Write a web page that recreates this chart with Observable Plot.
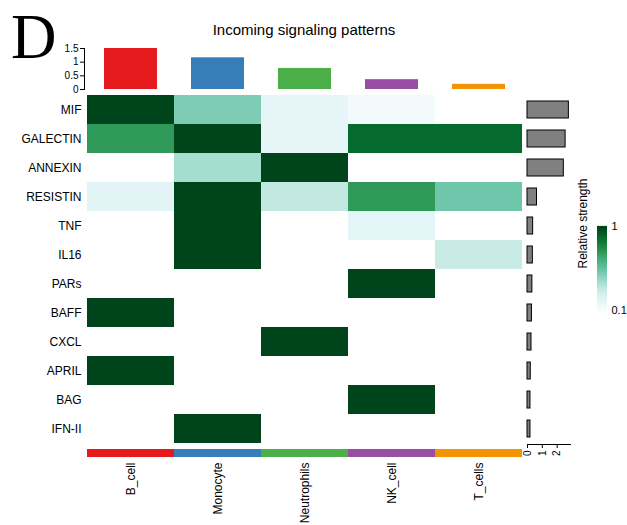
<!DOCTYPE html>
<html>
<head>
<meta charset="utf-8">
<script src="https://cdn.jsdelivr.net/npm/d3@7"></script>
<script src="https://cdn.jsdelivr.net/npm/@observablehq/plot@0.6"></script>
<style>
  body { margin: 0; background: #fff; }
  #chart { position: relative; width: 627px; height: 525px; overflow: hidden;
           font-family: "Liberation Sans", Arial, Helvetica, sans-serif; color: #000; }
  #chart svg { position: absolute; left: 0; top: 0; overflow: visible; }
  .panel-letter { position: absolute; left: 11px; top: 1px; font-family: "Liberation Serif", "Times New Roman", serif;
                  font-size: 63px; line-height: normal; }
  .title { position: absolute; left: 86px; width: 436px; top: 22px; text-align: center;
           font-size: 15px; line-height: 15px; }
</style>
</head>
<body>
<div id="chart">
  <div class="panel-letter">D</div>
  <div class="title">Incoming signaling patterns</div>
</div>
<script>
// Receiving cell groups and their colours
const cellTypes = ["B_cell", "Monocyte", "Neutrophils", "NK_cell", "T_cells"];
const cellColors = ["#E41A1C", "#377EB8", "#4DAF4A", "#984EA3", "#F29403"];

// Signaling pathways (heatmap rows)
const pathways = ["MIF", "GALECTIN", "ANNEXIN", "RESISTIN", "TNF", "IL16",
                  "PARs", "BAFF", "CXCL", "APRIL", "BAG", "IFN-II"];

// Relative incoming strength, one row per pathway, one column per cell type (0 = none)
const strength = [
  [1.00, 0.50, 0.20, 0.13, 0.00],
  [0.73, 1.00, 0.20, 0.89, 0.89],
  [0.00, 0.41, 1.00, 0.00, 0.00],
  [0.22, 1.00, 0.34, 0.73, 0.53],
  [0.00, 1.00, 0.00, 0.21, 0.00],
  [0.00, 1.00, 0.00, 0.00, 0.32],
  [0.00, 0.00, 0.00, 1.00, 0.00],
  [1.00, 0.00, 0.00, 0.00, 0.00],
  [0.00, 0.00, 1.00, 0.00, 0.00],
  [1.00, 0.00, 0.00, 0.00, 0.00],
  [0.00, 0.00, 0.00, 1.00, 0.00],
  [0.00, 1.00, 0.00, 0.00, 0.00]
];

// Total incoming signal per cell type (top bars) and per pathway (right bars)
const incomingTotal = [1.50, 1.16, 0.77, 0.36, 0.19];
const pathwayTotal = [2.79, 2.57, 2.45, 0.64, 0.38, 0.36, 0.33, 0.30, 0.27, 0.22, 0.20, 0.20];

// Axis ticks
const topTicks = [0, 0.5, 1, 1.5];
const rightTicks = [0, 1, 2];
const legendTicks = [0.1, 1];

const W = 627, H = 525;
const heatLeft = 86, heatRight = 105, heatTop = 94, heatBottom = 81;
const font = "\"Liberation Sans\", Arial, Helvetica, sans-serif";
const baseStyle = {background: "transparent", fontFamily: font, fontSize: "12px", overflow: "visible", color: "#000"};
const colorScale = {type: "linear", scheme: "BuGn", domain: [0.1, 1]};

const cells = [];
pathways.forEach((p, i) => cellTypes.forEach((c, j) => {
  if (strength[i][j] > 0) cells.push({pathway: p, cell: c, value: strength[i][j]});
}));

const chart = document.getElementById("chart");

// Heatmap with pathway labels
chart.appendChild(Plot.plot({
  width: W, height: H,
  marginLeft: heatLeft, marginRight: heatRight, marginTop: heatTop, marginBottom: heatBottom,
  style: baseStyle,
  x: {domain: cellTypes, padding: 0, axis: null},
  y: {domain: pathways, padding: 0},
  color: colorScale,
  marks: [
    Plot.cell(cells, {x: "cell", y: "pathway", fill: "value"}),
    Plot.axisY({tickSize: 0, tickPadding: 5, label: null, fontSize: 12})
  ]
}));

// Cell-type colour strip and rotated group labels under the heatmap
chart.appendChild(Plot.plot({
  width: W, height: H,
  marginLeft: heatLeft, marginRight: heatRight, marginTop: 449, marginBottom: 68,
  style: baseStyle,
  x: {domain: cellTypes, padding: 0},
  marks: [
    Plot.cell(cellTypes, {x: d => d, fill: (d, i) => cellColors[i]}),
    Plot.axisX({anchor: "bottom", tickSize: 0, tickPadding: 5, tickRotate: -90, label: null, fontSize: 12})
  ]
}));

// Top bars: total incoming strength per cell type
chart.appendChild(Plot.plot({
  width: W, height: 89,
  marginLeft: heatLeft, marginRight: heatRight, marginTop: 48, marginBottom: 0,
  style: baseStyle,
  x: {domain: cellTypes, padding: 0, axis: null},
  y: {domain: [0, 1.5]},
  marks: [
    Plot.barY(cellTypes, {x: d => d, y: (d, i) => incomingTotal[i], fill: (d, i) => cellColors[i],
                          insetLeft: 17, insetRight: 17}),
    Plot.axisY({ticks: topTicks, tickFormat: d => String(d), tickSize: 4, tickPadding: 2, dx: -2,
                label: null, fontSize: 10}),
    Plot.frame({anchor: "left", dx: -2})
  ]
}));

// Right bars: total strength per pathway
chart.appendChild(Plot.plot({
  width: W, height: H,
  marginLeft: 527, marginRight: 57, marginTop: heatTop, marginBottom: heatBottom,
  style: baseStyle,
  x: {domain: [0, 2.9]},
  y: {domain: pathways, padding: 0, axis: null},
  marks: [
    Plot.barX(pathways, {y: d => d, x: (d, i) => pathwayTotal[i], fill: "#808080", stroke: "#000",
                         strokeWidth: 1, insetTop: 6, insetBottom: 6}),
    Plot.frame({anchor: "bottom"}),
    Plot.axisX({anchor: "bottom", ticks: rightTicks, tickFormat: d => String(d), tickSize: 4,
                tickPadding: 2, tickRotate: -90, label: null, fontSize: 10})
  ]
}));

// Colour legend: vertical ramp of relative strength
const legendStops = d3.range(0.1, 1.0001, 0.004);
chart.appendChild(Plot.plot({
  width: W, height: H,
  marginLeft: 597, marginRight: 20, marginTop: 226, marginBottom: 215,
  style: baseStyle,
  x: {axis: null},
  y: {domain: [0.1, 1], axis: null},
  color: colorScale,
  marks: [
    Plot.ruleY(legendStops, {y: d => d, stroke: d => d, strokeWidth: 1.2}),
    Plot.axisY({anchor: "right", ticks: legendTicks, tickFormat: d => String(d), tickSize: 0,
                tickPadding: 4, label: null, fontSize: 11}),
    Plot.text(["Relative strength"], {frameAnchor: "left", rotate: -90, dx: -14, fontSize: 12})
  ]
}));
</script>
</body>
</html>
